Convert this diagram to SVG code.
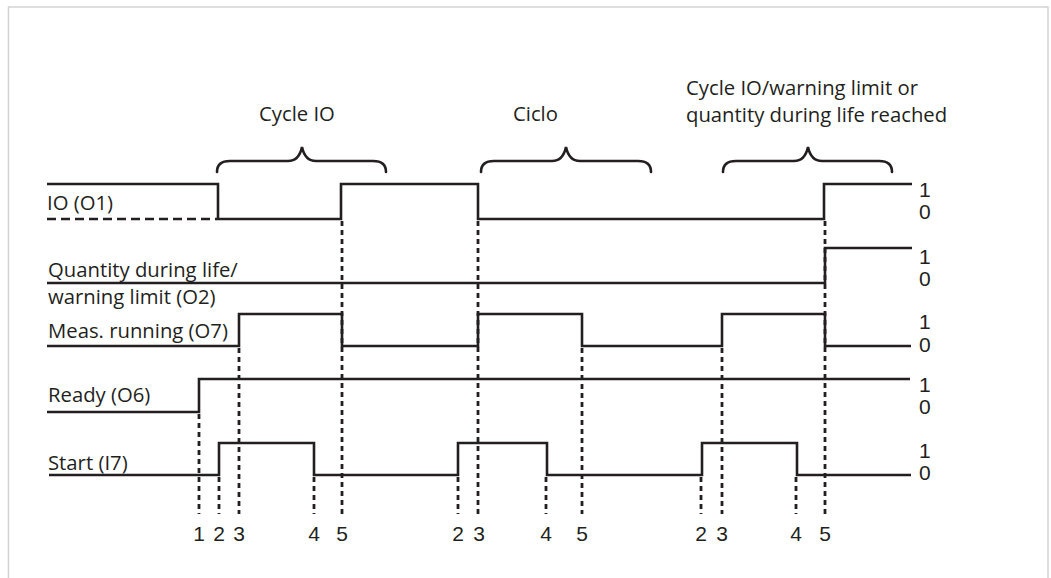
<svg xmlns="http://www.w3.org/2000/svg" width="1051" height="578" viewBox="0 0 1051 578">
<style>
.sig{fill:none;stroke:#231f20;stroke-width:2.6;stroke-linejoin:miter;stroke-linecap:butt}
.dash{fill:none;stroke:#231f20;stroke-width:2.6;stroke-dasharray:9 5}
.dot{fill:none;stroke:#231f20;stroke-width:2.8;stroke-dasharray:5 4}
.brace{fill:none;stroke:#231f20;stroke-width:2.6;stroke-linecap:round}
.lbl{font-family:"Open Sans","Noto Sans",sans-serif;font-size:20.3px;fill:#231f20}
.st{font-family:"Liberation Sans",Arial,sans-serif;font-size:21px;fill:#231f20}
</style>
<rect x="8.5" y="7" width="1039.5" height="620" fill="#ffffff" stroke="#d3d3d3" stroke-width="1.5"/>
<g id="titles">
<text class="lbl" x="259" y="121">Cycle IO</text>
<text class="lbl" x="513" y="121">Ciclo</text>
<text class="lbl" x="686" y="95">Cycle IO/warning limit or</text>
<text class="lbl" x="686" y="122">quantity during life reached</text>
</g>
<g id="braces">
<path class="brace" d="M217,172 Q217,161 230,161 L288,161 Q299,161 302,147 Q305,161 316,161 L373,161 Q386,161 386,172"/>
<path class="brace" d="M481,172 Q481,161 494,161 L552,161 Q563,161 566,147 Q569,161 580,161 L638,161 Q651,161 651,172"/>
<path class="brace" d="M723,172 Q723,161 736,161 L794,161 Q805,161 808,147 Q811,161 822,161 L879,161 Q892,161 892,172"/>
</g>
<g id="signal-io">
<text class="lbl" x="47" y="210">IO (O1)</text>
<path class="sig" d="M47,184 H218 V219 H341 V184 H478 V219 H824 V184 H912"/>
<path class="dash" d="M47,219 H217"/>
<text class="st" x="919" y="197">1</text>
<text class="st" x="919" y="219">0</text>
</g>
<g id="signal-quantity">
<text class="lbl" x="48" y="277">Quantity during life/</text>
<text class="lbl" x="48" y="304">warning limit (O2)</text>
<path class="sig" d="M47,283 H825 V248 H912"/>
<text class="st" x="919" y="264">1</text>
<text class="st" x="919" y="286">0</text>
</g>
<g id="signal-meas">
<text class="lbl" x="48" y="338">Meas. running (O7)</text>
<path class="sig" d="M47,346 H239 V314 H342 V346 H478 V314 H582 V346 H722 V314 H825 V346 H911"/>
<text class="st" x="919" y="329">1</text>
<text class="st" x="919" y="352">0</text>
</g>
<g id="signal-ready">
<text class="lbl" x="48" y="402">Ready (O6)</text>
<path class="sig" d="M47,412 H199 V379 H910"/>
<text class="st" x="919" y="392">1</text>
<text class="st" x="919" y="414">0</text>
</g>
<g id="signal-start">
<text class="lbl" x="48" y="470">Start (I7)</text>
<path class="sig" d="M49,475 H219 V443 H314 V475 H458 V443 H547 V475 H702 V443 H797 V475 H911"/>
<text class="st" x="919" y="458">1</text>
<text class="st" x="919" y="480">0</text>
</g>
<g id="connectors">
<path class="dot" d="M199,414 V514 M219,477 V514 M239,348 V514 M314,477 V514 M342,221 V514 M458,477 V514 M478,221 V514 M546,477 V514 M582,348 V514 M701,477 V514 M722,348 V514 M796,477 V514 M825,221 V514"/>
</g>
<g id="markers" class="st" text-anchor="middle">
<text class="st" x="199" y="541">1</text>
<text class="st" x="219" y="541">2</text>
<text class="st" x="239" y="541">3</text>
<text class="st" x="314" y="541">4</text>
<text class="st" x="342" y="541">5</text>
<text class="st" x="458" y="541">2</text>
<text class="st" x="479" y="541">3</text>
<text class="st" x="546" y="541">4</text>
<text class="st" x="582" y="541">5</text>
<text class="st" x="701" y="541">2</text>
<text class="st" x="722" y="541">3</text>
<text class="st" x="796" y="541">4</text>
<text class="st" x="825" y="541">5</text>
</g>
</svg>
